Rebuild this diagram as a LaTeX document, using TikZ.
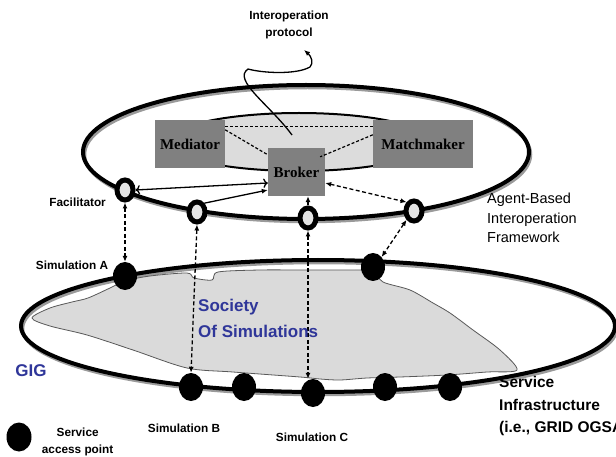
\documentclass[tikz,border=0pt]{standalone}
\usepackage{fontspec}
\setmainfont{Liberation Serif}
\setsansfont{Liberation Sans}
\usetikzlibrary{arrows.meta, positioning, shapes.geometric}
\definecolor{cbox}{HTML}{808080}
\definecolor{clens}{HTML}{DCDCDC}
\definecolor{cring}{HTML}{E4E4E4}
\definecolor{cblob}{HTML}{DADADA}
\definecolor{cblue}{HTML}{2F3699}
\definecolor{cshade}{HTML}{9A9A9A}
\tikzset{
  every picture/.style={x=1pt, y=-1pt},
  box/.style={fill=cbox, inner sep=0pt, minimum height=48pt, font=\rmfamily\bfseries\fontsize{15}{18}\selectfont},
  ring/.style={ellipse, draw=black, fill=cring, line width=5pt, minimum width=16pt, minimum height=20pt, inner sep=0pt},
  sap/.style={ellipse, fill=black, minimum width=24pt, minimum height=28pt, inner sep=0pt},
  rim/.style={draw=black, line width=4pt},
  shade/.style={draw=cshade, line width=3.5pt, xshift=1.5pt, yshift=-2.5pt},
  link/.style={-{Latex[length=6pt, width=5pt]}, line width=1.3pt},
  dlink/.style={{Latex[length=6pt, width=5pt]}-{Latex[length=6pt, width=5pt]}, line width=1.3pt, dash pattern=on 4pt off 2.5pt},
  thin dash/.style={line width=1.2pt, dash pattern=on 3pt off 2pt},
  note/.style={font=\sffamily\bfseries\fontsize{11.8}{17}\selectfont, align=center, inner sep=1pt},
  big/.style={font=\sffamily\bfseries\fontsize{17}{26}\selectfont, text=cblue, align=left, inner sep=0pt},
}

\begin{document}
\begin{tikzpicture}
  \useasboundingbox (0,0) rectangle (616,457);

  % agent-based interoperation framework
  \draw[shade] (306,152) ellipse [x radius=223, y radius=67];
  \draw[rim] (306,152) ellipse [x radius=223, y radius=67];
  \draw[fill=clens, line width=2pt] (299,142) ellipse [x radius=132, y radius=29];
  \node[box, minimum width=70pt] (med) at (190,144) {Mediator};
  \node[box, minimum width=100pt] (match) at (423,144) {Matchmaker};
  \node[box, minimum width=57pt] (broker) at (296.5,172) {Broker};
  \draw[thin dash] ([yshift=-7pt]med.north east) -- ([yshift=-7pt]match.north west);
  \draw[thin dash] ([yshift=-10pt]med.north east) -- ([yshift=-7pt]broker.north west);
  \draw[thin dash] ([yshift=-15pt]match.north west) -- ([xshift=-5pt, yshift=-9pt]broker.north east);

  % protocol
  \node[note] (proto) at (289,25) {Interoperation\\protocol};
  \coordinate (ptail) at (292,135);
  \coordinate (phead) at (304,50);
  \draw[link] (ptail) .. controls (270,105) and (232,80) .. (248,69)
    .. controls (262,73) and (296,75) .. (310,67)
    .. controls (314,63) and (311,56) .. (phead);

  % facilitators
  \node[ring] (fac) at (125,190) {};
  \node[ring] (agt2) at (197,212) {};
  \node[ring] (agt3) at (308,218) {};
  \node[ring] (agt4) at (414,211) {};
  \draw[link, <->] (fac.east) -- ([yshift=-11pt]broker.west);
  \draw[link] (agt2.north east) -- ([yshift=-18pt]broker.west);
  \draw[link] (agt3.north) -- (agt3.north |- broker.south);
  \draw[dlink] ([yshift=-11pt]broker.east) -- (agt4.north west);

  % service infrastructure
  \draw[shade] (318,326) ellipse [x radius=297, y radius=66];
  \draw[fill=cblob, draw=black!65, line width=0.8pt] plot[smooth cycle, tension=0.5] coordinates {
    (32,318) (50,308) (72,302) (88,298) (110,288) (125,281) (150,276) (187,273)
    (194,278) (212,280) (218,272) (260,270) (300,270) (350,270) (373,271)
    (383,282) (410,290) (433,303) (450,313) (473,330) (500,350) (517,370)
    (487,372) (447,375) (400,377) (367,378) (340,380) (320,379) (300,377)
    (233,372) (187,368) (133,350) (87,335) (50,326)};
  \draw[rim] (318,326) ellipse [x radius=297, y radius=66];
  \node[sap] (simA) at (125,276) {};
  \node[sap] (simD) at (373,267) {};
  \node[sap] (simB) at (191,387) {};
  \node[sap] (simB2) at (244,387) {};
  \node[sap] (simC) at (313,393) {};
  \node[sap] (simE) at (385,387) {};
  \node[sap] (simF) at (450,387) {};

  \draw[dlink] (fac.south) -- (simA.north);
  \draw[dlink] (agt2.south) -- (simB.north);
  \draw[dlink] (agt3.south) -- (agt3.south |- simC.north);
  \draw[dlink] (agt4.south west) -- (simD.north east);

  % labels
  \node[note, anchor=east] (faclab) at (107,202) {Facilitator};
  \node[note] (simAlab) at (72,265) {Simulation A};
  \node[note] (simBlab) at (184,428) {Simulation B};
  \node[note] (simClab) at (312,437) {Simulation C};
  \node[font=\sffamily\fontsize{14.5}{19.5}\selectfont, align=left, anchor=west, inner sep=0pt] (aiflab) at (487,218) {Agent-Based\\Interoperation\\Framework};
  \node[font=\sffamily\bfseries\fontsize{15.5}{22.5}\selectfont, align=left, anchor=west, inner sep=0pt] (silab) at (499,406) {Service\\Infrastructure\\(i.e., GRID OGSA)};
  \node[big, anchor=west] (soclab) at (198,318) {Society\\Of Simulations};
  \node[big] (giglab) at (31,371) {GIG};

  % legend
  \node[sap, minimum width=25pt, minimum height=29pt] (key) at (19,437) {};
  \node[note, right=9pt of key, yshift=-4.5pt] (keylab) {Service\\access point};
\end{tikzpicture}
\end{document}
